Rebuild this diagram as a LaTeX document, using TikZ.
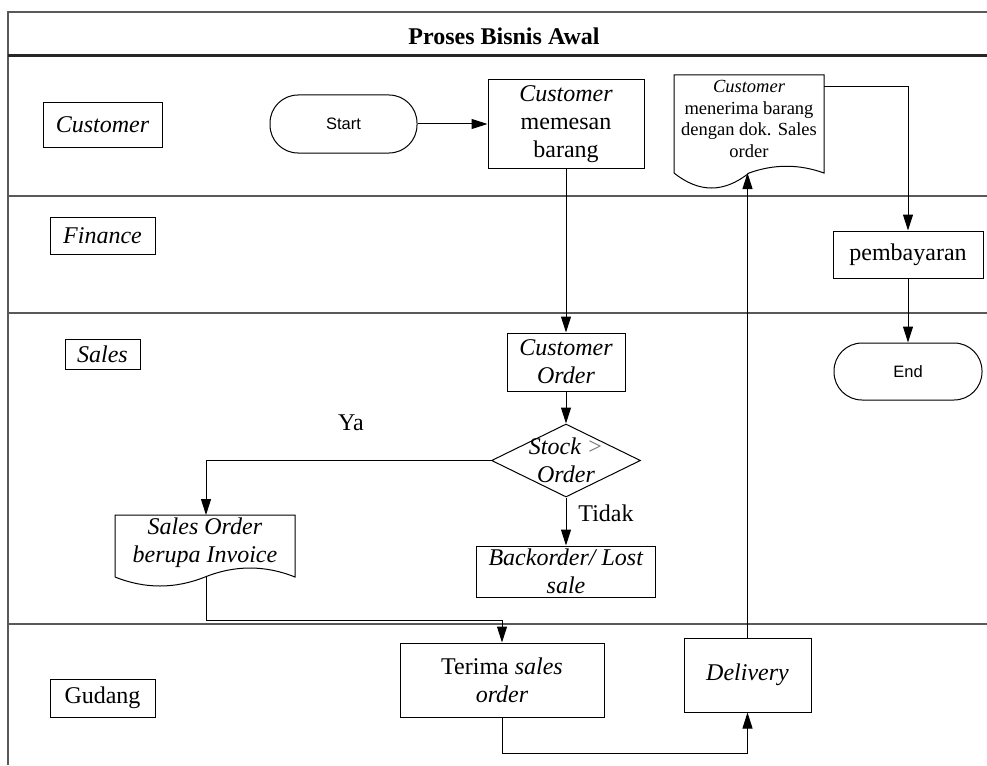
\documentclass[tikz,border=0pt]{standalone}
\usepackage{fontspec}
\setmainfont{Liberation Serif}
\newfontfamily\arialf{Liberation Sans}
\usetikzlibrary{arrows.meta,shapes.geometric,calc}
\begin{document}
\begin{tikzpicture}[x=1pt,y=-1pt,
  box/.style={draw, line width=1pt, rectangle, inner sep=0pt, align=center, font=\fontsize{24}{28}\selectfont},
  lanebox/.style={draw, line width=1pt, rectangle, inner sep=0pt, font=\fontsize{24}{28}\selectfont},
  term/.style={draw, line width=1pt, rectangle, rounded corners=28pt, inner sep=0pt, font=\arialf\fontsize{16.5}{20}\selectfont},
  arr/.style={-{Triangle[length=16pt,width=10pt]}, line width=1pt},
  lane/.style={draw=black!65, line width=2pt},
  txt/.style={font=\fontsize{24}{28}\selectfont, align=center, inner sep=0pt},
  docline/.style={line width=1pt}
]
\useasboundingbox (0,0) rectangle (987,765);

% frame and lanes
\draw[lane] (987,12) -- (8,12) -- (8,765);
\draw[draw=black!85, line width=3pt] (8,56) -- (987,56);
\draw[lane] (8,196) -- (987,196);
\draw[lane] (8,313) -- (987,313);
\draw[lane] (8,624) -- (987,624);

\node[font=\bfseries\fontsize{24}{28}\selectfont, inner sep=0pt] (title) at (504,36) {Proses Bisnis Awal};

% lane labels
\node[lanebox, minimum width=119pt, minimum height=44pt] (lcust) at (102.5,125) {\textit{Customer}};
\node[lanebox, minimum width=105pt, minimum height=37pt] (lfin) at (102.5,235.5) {\textit{Finance}};
\node[lanebox, minimum width=75pt, minimum height=30pt] (lsales) at (102.5,354) {\textit{Sales}};
\node[lanebox, minimum width=105pt, minimum height=38pt] (lgud) at (102.5,698) {Gudang};

% customer lane
\node[term, minimum width=147pt, minimum height=58pt] (start) at (343.5,124) {Start};
\node[box, minimum width=156pt, minimum height=88pt] (pesan) at (566,124) {\textit{Customer}\\memesan\\barang};
\draw[docline] (674,173) -- (674,75) -- (824,75) -- (824,173)
  .. controls (799,164) and (774,164) .. (749,173)
  .. controls (724,193) and (699,193) .. (674,173);
\node[font=\fontsize{18.5}{21.5}\selectfont, align=center, inner sep=0pt] (doc1) at (749,119) {\textit{Customer}\\menerima barang\\dengan dok. Sales\\order};
\coordinate (doc1in) at (747.5,173);
\coordinate (doc1out) at (824,87);

% finance lane
\node[box, minimum width=150pt, minimum height=47pt] (bayar) at (908,254.5) {pembayaran};

% sales lane
\node[term, minimum width=148pt, minimum height=57pt] (end) at (908,371.5) {End};
\node[box, minimum width=118pt, minimum height=58pt] (corder) at (566,362) {\textit{Customer}\\\textit{Order}};
\node[draw, diamond, line width=1pt, minimum width=149pt, minimum height=73pt, inner sep=0pt] (dec) at (566,460.5) {};
\node[txt] (dect) at (566,460) {\textit{Stock {\color{black!55}>}}\\\textit{Order}};
\node[box, minimum width=179pt, minimum height=51pt] (back) at (566,571.5) {\textit{Backorder/ Lost}\\\textit{sale}};
\draw[docline] (115,577) -- (115,515) -- (295,515) -- (295,577)
  .. controls (265,565) and (235,565) .. (205,577)
  .. controls (175,589) and (145,589) .. (115,577);
\node[txt] (sodoc) at (205,542.5) {\textit{Sales Order}\\\textit{berupa Invoice}};
\coordinate (soin) at (206,515);
\coordinate (soout) at (206,577);
\node[txt] (ya) at (351,423) {Ya};
\node[txt] (tidak) at (606,513) {Tidak};

% gudang lane
\node[box, minimum width=204pt, minimum height=74pt] (terima) at (502,680) {Terima \textit{sales}\\\textit{order}};
\node[box, minimum width=127pt, minimum height=74pt] (deliv) at (747.5,675) {\textit{Delivery}};

% connectors
\draw[arr] (start) -- (pesan);
\draw[arr] (pesan.south) -- (corder.north);
\draw[arr] (corder.south) -- (dec.north);
\draw[arr] (dec.south) -- (back.north);
\draw[arr] (dec.west) -| (soin);
\draw[arr] (soout) |- ($(terima.north)+(0,-22)$) -- (terima.north);
\draw[arr] (terima.south) -- ++(0,36) -| (deliv.south);
\draw[arr] (deliv.north) -- (doc1in);
\draw[arr] (doc1out) -| (bayar.north);
\draw[arr] (bayar.south) -- (end.north);
\end{tikzpicture}
\end{document}
